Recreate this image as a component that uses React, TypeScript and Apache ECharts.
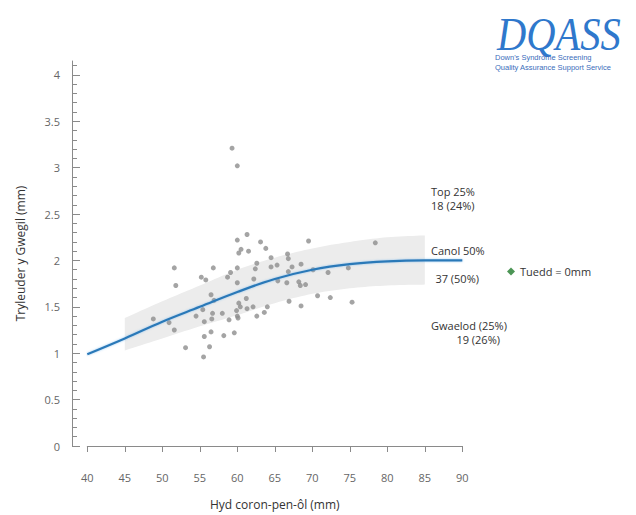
import React, { useEffect, useRef } from "react";
import * as echarts from "echarts";

// Median curve (Canol)
const curveX = [40, 45, 50, 55, 60, 65, 70, 75, 80, 85, 90];
const medianY = [0.99, 1.16, 1.34, 1.5, 1.66, 1.8, 1.9, 1.96, 1.99, 2.0, 2.0];

// Shaded band (25th–75th percentile)
const bandX = [45, 50, 55, 60, 65, 70, 75, 80, 85];
const bandUpper = [1.38, 1.56, 1.73, 1.9, 2.03, 2.13, 2.2, 2.25, 2.27];
const bandLower = [1.03, 1.16, 1.29, 1.41, 1.54, 1.64, 1.7, 1.73, 1.74];

// Observed measurements: CRL (mm) and NT (mm)
const obsCRL = [
  59.3, 60.0, 60.0, 61.3, 63.1, 69.5, 78.4, 60.2, 60.5, 61.5, 63.8, 51.6, 51.8, 56.8, 55.2,
  55.8, 58.7, 59.1, 60.0, 60.0, 62.4, 62.6, 64.5, 64.5, 65.3, 66.7, 66.8, 67.3, 68.5, 66.8,
  62.2, 65.4, 66.6, 68.2, 68.4, 69.1, 70.1, 72.1, 74.8, 56.5, 56.9, 61.2, 60.2, 60.4, 61.3,
  62.1, 64.0, 63.6, 62.6, 60.0, 60.1, 66.9, 68.5, 70.7, 72.4, 75.3, 48.8, 50.9, 51.6, 55.4,
  54.5, 55.6, 56.6, 56.7, 58.0, 58.9, 59.9, 56.5, 55.6, 58.2, 59.6, 53.1, 56.3, 55.5,
];
const obsNT = [
  3.21, 3.02, 2.22, 2.28, 2.2, 2.21, 2.19, 2.08, 2.12, 2.1, 2.13, 1.92, 1.73, 1.92, 1.82,
  1.79, 1.82, 1.87, 1.92, 1.76, 1.91, 1.97, 2.03, 1.93, 1.95, 2.07, 2.02, 1.93, 1.96, 1.88,
  1.8, 1.78, 1.76, 1.77, 1.73, 1.74, 1.9, 1.87, 1.92, 1.63, 1.57, 1.59, 1.54, 1.5, 1.48,
  1.5, 1.5, 1.44, 1.4, 1.4, 1.38, 1.56, 1.51, 1.62, 1.6, 1.55, 1.37, 1.33, 1.25, 1.47,
  1.4, 1.34, 1.37, 1.43, 1.43, 1.36, 1.46, 1.23, 1.18, 1.19, 1.22, 1.06, 1.07, 0.96,
];

// Axis ticks
const xTicks = [40, 45, 50, 55, 60, 65, 70, 75, 80, 85, 90];
const yLabelValues = [0, 0.5, 1, 1.5, 2, 2.5, 3, 3.5, 4];
const yMinorValues = [
  0, 0.1, 0.2, 0.3, 0.4, 0.5, 0.6, 0.7, 0.8, 0.9, 1, 1.1, 1.2, 1.3, 1.4, 1.5, 1.6, 1.7, 1.8, 1.9,
  2, 2.1, 2.2, 2.3, 2.4, 2.5, 2.6, 2.7, 2.8, 2.9, 3, 3.1, 3.2, 3.3, 3.4, 3.5, 3.6, 3.7, 3.8, 3.9,
  4, 4.1,
];

// Annotation texts
const topLabel = ["Top 25%", "18 (24%)"];
const midLabel = ["Canol 50%", "37 (50%)"];
const lowLabel = ["Gwaelod (25%)", "19 (26%)"];
const trendLabel = "Tuedd = 0mm";

// Catmull-Rom subdivision of pixel points (rendering only)
function smoothPts(pts: number[][], steps = 10): number[][] {
  const out: number[][] = [];
  for (let i = 0; i < pts.length - 1; i++) {
    const p0 = pts[Math.max(0, i - 1)];
    const p1 = pts[i];
    const p2 = pts[i + 1];
    const p3 = pts[Math.min(pts.length - 1, i + 2)];
    for (let s = 0; s < steps; s++) {
      const t = s / steps;
      const t2 = t * t;
      const t3 = t2 * t;
      const f = (a: number, b: number, c: number, d: number) =>
        0.5 * (2 * b + (-a + c) * t + (2 * a - 5 * b + 4 * c - d) * t2 + (-a + 3 * b - 3 * c + d) * t3);
      out.push([f(p0[0], p1[0], p2[0], p3[0]), f(p0[1], p1[1], p2[1], p3[1])]);
    }
  }
  out.push(pts[pts.length - 1]);
  return out;
}

export default function App() {
  const ref = useRef<HTMLDivElement>(null);

  useEffect(() => {
    if (!ref.current) return;
    const chart = echarts.init(ref.current, null, { renderer: "svg" });
    const font = "'Open Sans', 'Noto Sans', sans-serif";
    const axisColor = "#8a8a8a";
    const labelColor = "#666";
    const textColor = "#333";

    const annot = (text: string, x: number, y: number, align = "left") => ({
      type: "text",
      x,
      y,
      style: {
        text,
        fill: textColor,
        font: `11px ${font}`,
        textAlign: align,
        textVerticalAlign: "middle",
      },
    });

    const bandData = bandX.map((x, i) => [x, bandLower[i], bandUpper[i]]);

    chart.setOption({
      animation: false,
      backgroundColor: "#ffffff",
      grid: { left: 87.3, right: 173.7, top: 61, bottom: 65, containLabel: false },
      legend: {
        left: 502,
        top: 261,
        itemWidth: 8,
        itemHeight: 8,
        itemGap: 6,
        icon: "diamond",
        textStyle: { color: textColor, fontSize: 11, fontFamily: font },
        data: [trendLabel],
      },
      xAxis: {
        type: "value",
        min: 40,
        max: 90,
        interval: 5,
        offset: 15,
        name: "Hyd coron-pen-ôl (mm)",
        nameLocation: "middle",
        nameGap: 37,
        nameTextStyle: { color: textColor, fontSize: 12, fontFamily: font },
        axisLine: { show: true, lineStyle: { color: axisColor, width: 1 } },
        axisTick: { show: true, length: 6, lineStyle: { color: axisColor }, customValues: xTicks },
        axisLabel: { color: labelColor, fontSize: 11, fontFamily: font, margin: 11, customValues: xTicks },
        splitLine: { show: false },
      },
      yAxis: [
        {
          type: "value",
          min: 0,
          max: 4.15,
          offset: 15.3,
          name: "Tryleuder y Gwegil (mm)",
          nameLocation: "middle",
          nameGap: 46,
          nameTextStyle: { color: textColor, fontSize: 12, fontFamily: font },
          axisLine: { show: true, lineStyle: { color: axisColor, width: 1 } },
          axisTick: {
            show: true,
            inside: true,
            length: 5,
            lineStyle: { color: axisColor },
            customValues: yMinorValues,
          },
          axisLabel: {
            color: labelColor,
            fontSize: 11,
            fontFamily: font,
            margin: 12,
            customValues: yLabelValues,
          },
          splitLine: { show: false },
        },
        {
          type: "value",
          min: 0,
          max: 4.15,
          offset: 15.3,
          position: "left",
          axisLine: { show: false },
          axisTick: {
            show: true,
            inside: true,
            length: 8,
            lineStyle: { color: axisColor },
            customValues: yLabelValues,
          },
          axisLabel: { show: false },
          splitLine: { show: false },
        },
      ],
      series: [
        {
          type: "custom",
          name: "band",
          silent: true,
          z: 1,
          data: bandData,
          renderItem: (params: any, api: any) => {
            if (params.dataIndex !== 0) return null;
            const up = bandData.map((d) => api.coord([d[0], d[2]]));
            const lo = bandData.map((d) => api.coord([d[0], d[1]]));
            const upS = smoothPts(up);
            const loS = smoothPts(lo).reverse();
            return {
              type: "polygon",
              shape: { points: upS.concat(loS) },
              style: { fill: "#ececec", stroke: "none" },
            };
          },
        },
        {
          type: "scatter",
          name: "obs",
          symbol: "circle",
          symbolSize: 5,
          itemStyle: { color: "#8d8d8d" },
          data: obsCRL.map((x, i) => [x, obsNT[i]]),
          z: 3,
        },
        {
          type: "line",
          name: "median",
          smooth: 0.4,
          symbol: "none",
          lineStyle: {
            color: "#2b79b8",
            width: 2.2,
            shadowColor: "rgba(90,170,235,0.6)",
            shadowBlur: 2,
          },
          data: curveX.map((x, i) => [x, medianY[i]]),
          z: 4,
        },
        {
          type: "scatter",
          name: trendLabel,
          symbol: "diamond",
          itemStyle: { color: "#1f7a2a" },
          data: [],
        },
      ],
      graphic: [
        annot(topLabel[0], 431, 191),
        annot(topLabel[1], 431, 205),
        annot(midLabel[0], 431, 250),
        annot(midLabel[1], 479, 278.5, "right"),
        annot(lowLabel[0], 431, 325),
        annot(lowLabel[1], 500, 339.5, "right"),
        {
          type: "text",
          x: 497,
          y: 11,
          scaleX: 0.88,
          style: {
            text: "DQASS",
            fill: "#2f78cc",
            font: "italic 46px 'Liberation Serif', 'DejaVu Serif', serif",
            textAlign: "left",
            textVerticalAlign: "top",
          },
        },
        {
          type: "text",
          x: 495,
          y: 57,
          style: {
            text: "Down's Syndrome Screening",
            fill: "#3a6dbb",
            font: "7.5px 'Liberation Sans', Arial, sans-serif",
            textVerticalAlign: "middle",
          },
        },
        {
          type: "text",
          x: 495,
          y: 67,
          style: {
            text: "Quality Assurance Support Service",
            fill: "#3a6dbb",
            font: "7.5px 'Liberation Sans', Arial, sans-serif",
            textVerticalAlign: "middle",
          },
        },
      ],
    });

    return () => chart.dispose();
  }, []);

  return (
    <div
      ref={ref}
      style={{ position: "fixed", left: 0, top: 0, width: 636, height: 515, background: "#fff" }}
    />
  );
}
